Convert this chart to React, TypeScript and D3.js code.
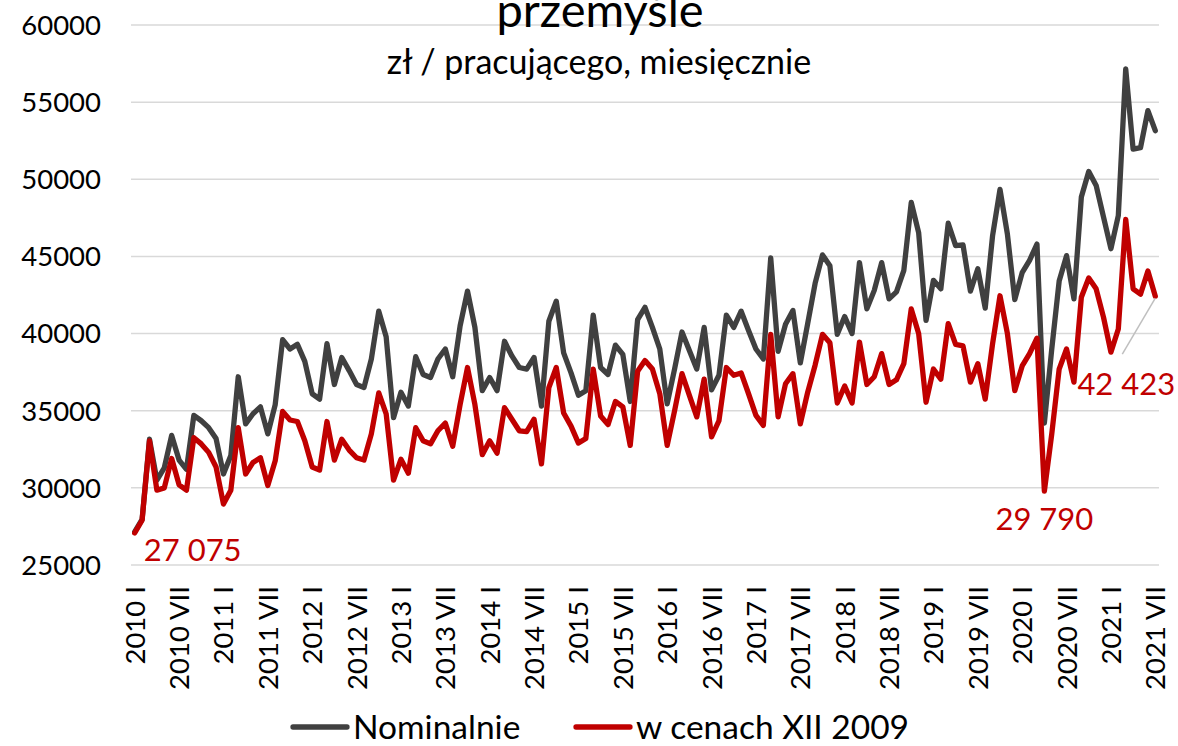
import * as d3 from "d3";
import { useEffect, useRef } from "react";

const years = [2010, 2011, 2012, 2013, 2014, 2015, 2016, 2017, 2018, 2019, 2020, 2021];
const months = ["I", "II", "III", "IV", "V", "VI", "VII", "VIII", "IX", "X", "XI", "XII"];

// nominal wage, zł per employee, monthly
const nominal = [
  27150, 27950, 33150, 30500, 31300, 33400, 31800, 31200, 34700, 34350, 33900, 33200,
  30900, 32100, 37200, 34150, 34800, 35250, 33500, 35400, 39600, 39000, 39300, 38200,
  36100, 35750, 39350, 36700, 38450, 37600, 36700, 36500, 38350, 41450, 39800, 34550,
  36200, 35300, 38500, 37350, 37150, 38350, 39000, 37200, 40500, 42750, 40400, 36300,
  37150, 36300, 39500, 38550, 37800, 37700, 38450, 35300, 40800, 42100, 38750, 37450,
  36000, 36300, 41200, 37800, 37350, 39250, 38650, 35600, 40900, 41700, 40400, 39000,
  35450, 37700, 40100, 38900, 37700, 40400, 36350, 37300, 41200, 40400, 41450, 40200,
  39000, 38350, 44900, 38850, 40600, 41500, 38100, 40650, 43250, 45100, 44400, 39950,
  41100, 40000, 44600, 41600, 42800, 44600, 42250, 42700, 44100, 48500, 46550, 40850,
  43450, 42900, 47150, 45700, 45750, 42750, 44200, 41650, 46350, 49350, 46450, 42200,
  43950, 44750, 45800, 34200, 39000, 43400, 45050, 42250, 48850, 50500, 49600, 47550,
  45500, 47650, 57150, 51950, 52050, 54450, 53150,
];

// in prices of XII 2009
const real = [
  27075, 27900, 33050, 29850, 30000, 31900, 30200, 29850, 33250, 32850, 32300, 31350,
  28950, 29850, 33900, 30900, 31650, 31950, 30150, 31750, 34950, 34400, 34300, 33050,
  31350, 31150, 34300, 31800, 33150, 32450, 31950, 31800, 33500, 36150, 34800, 30500,
  31850, 30950, 33900, 33050, 32850, 33700, 34200, 32700, 35400, 37800, 35400, 32150,
  33050, 32250, 35200, 34450, 33700, 33650, 34450, 31550, 36500, 37800, 34850, 34000,
  32900, 33200, 37700, 34650, 34100, 35600, 35250, 32750, 37550, 38250, 37700, 36100,
  32750, 35000, 37400, 36000, 34600, 37050, 33300, 34350, 37800, 37300, 37450, 36100,
  34700, 34050, 39950, 34600, 36750, 37400, 34150, 36200, 37950, 39950, 39400, 35500,
  36600, 35500, 39450, 36700, 37200, 38700, 36700, 37000, 38050, 41600, 40000, 35550,
  37700, 37050, 40650, 39300, 39200, 36850, 38050, 35750, 39350, 42450, 40000, 36300,
  37900, 38700, 39700, 29790, 33500, 37700, 39000, 36850, 42350, 43600, 42900, 41050,
  38800, 40300, 47400, 42900, 42550, 44050, 42423,
];

const yTicks = [25000, 30000, 35000, 40000, 45000, 50000, 55000, 60000];

const categories = years
  .flatMap((y) => months.map((m) => `${y} ${m}`))
  .slice(0, nominal.length);

const W = 1178;
const H = 746;
const FONT = "Lato, 'Open Sans', sans-serif";

const App = () => {
  const ref = useRef<SVGSVGElement | null>(null);

  useEffect(() => {
    const svg = d3.select(ref.current).attr("width", W).attr("height", H);
    svg.selectAll("*").remove();

    const x = d3.scalePoint<string>().domain(categories).range([131, 1159]).padding(0.5);
    const y = d3.scaleLinear().domain([25000, 60000]).range([565, 25]);

    // gridlines
    svg
      .append("g")
      .selectAll("line")
      .data(yTicks)
      .join("line")
      .attr("x1", 131)
      .attr("x2", 1159)
      .attr("y1", (d) => y(d))
      .attr("y2", (d) => y(d))
      .attr("stroke", "#d9d9d9")
      .attr("stroke-width", 1.5);

    svg
      .append("g")
      .selectAll("text")
      .data(yTicks)
      .join("text")
      .attr("x", 101)
      .attr("y", (d) => y(d))
      .attr("dy", "0.36em")
      .attr("text-anchor", "end")
      .attr("font-family", FONT)
      .attr("font-size", 27.5)
      .attr("fill", "#000")
      .text((d) => String(d));

    // x labels every 6 months
    const shown = categories.filter((_, i) => i % 6 === 0);
    svg
      .append("g")
      .selectAll("text")
      .data(shown)
      .join("text")
      .attr("transform", (d) => `translate(${(x(d) ?? 0) + 10},586) rotate(-90)`)
      .attr("text-anchor", "end")
      .attr("font-family", FONT)
      .attr("font-size", 27.5)
      .attr("fill", "#000")
      .text((d) => d);

    const line = d3
      .line<number>()
      .x((_, i) => x(categories[i]) ?? 0)
      .y((d) => y(d));

    svg
      .append("path")
      .datum(nominal)
      .attr("d", line)
      .attr("fill", "none")
      .attr("stroke", "#404040")
      .attr("stroke-width", 5.3)
      .attr("stroke-linejoin", "round")
      .attr("stroke-linecap", "round");

    svg
      .append("path")
      .datum(real)
      .attr("d", line)
      .attr("fill", "none")
      .attr("stroke", "#c00000")
      .attr("stroke-width", 5.3)
      .attr("stroke-linejoin", "round")
      .attr("stroke-linecap", "round");

    // data labels: first point, the 2020 low, last point
    const first = 0;
    const low = 120 + (d3.minIndex(real.slice(120)) as number);
    const last = real.length - 1;
    const fmt = (v: number) => d3.format(",")(v).replace(",", " ");
    const red = "#c00000";

    const lx = (i: number) => x(categories[i]) ?? 0;

    svg
      .append("line")
      .attr("x1", lx(last))
      .attr("y1", y(real[last]) + 2)
      .attr("x2", lx(last) - 33)
      .attr("y2", y(real[last]) + 58)
      .attr("stroke", "#bfbfbf")
      .attr("stroke-width", 1.5);

    const labels = [
      { i: first, dx: 58, dy: 28 },
      { i: low, dx: 0, dy: 39 },
      { i: last, dx: -29, dy: 99 },
    ];
    svg
      .append("g")
      .selectAll("text")
      .data(labels)
      .join("text")
      .attr("x", (d) => lx(d.i) + d.dx)
      .attr("y", (d) => y(real[d.i]) + d.dy)
      .attr("text-anchor", "middle")
      .attr("font-family", FONT)
      .attr("font-size", 31)
      .attr("fill", red)
      .text((d) => fmt(real[d.i]));

    // titles
    svg
      .append("text")
      .attr("x", 600)
      .attr("y", 27)
      .attr("text-anchor", "middle")
      .attr("font-family", FONT)
      .attr("font-size", 47)
      .attr("fill", "#000")
      .text("przemyśle");

    svg
      .append("text")
      .attr("x", 599)
      .attr("y", 74)
      .attr("text-anchor", "middle")
      .attr("font-family", FONT)
      .attr("font-size", 34)
      .attr("fill", "#000")
      .text("zł / pracującego, miesięcznie");

    // legend
    const legend = [
      { name: "Nominalnie", color: "#404040", x0: 293 },
      { name: "w cenach XII 2009", color: red, x0: 576 },
    ];
    const lg = svg
      .append("g")
      .selectAll("g")
      .data(legend)
      .join("g")
      .attr("transform", (d) => `translate(${d.x0},727)`);
    lg.append("line")
      .attr("x1", 0)
      .attr("x2", 54)
      .attr("stroke", (d) => d.color)
      .attr("stroke-width", 5.3)
      .attr("stroke-linecap", "round");
    lg.append("text")
      .attr("x", 60)
      .attr("dy", "0.36em")
      .attr("font-family", FONT)
      .attr("font-size", 33.5)
      .attr("fill", "#000")
      .text((d) => d.name);
  }, []);

  return (
    <div style={{ position: "absolute", left: 0, top: 0 }}>
      <svg ref={ref}></svg>
    </div>
  );
};

export default App;
